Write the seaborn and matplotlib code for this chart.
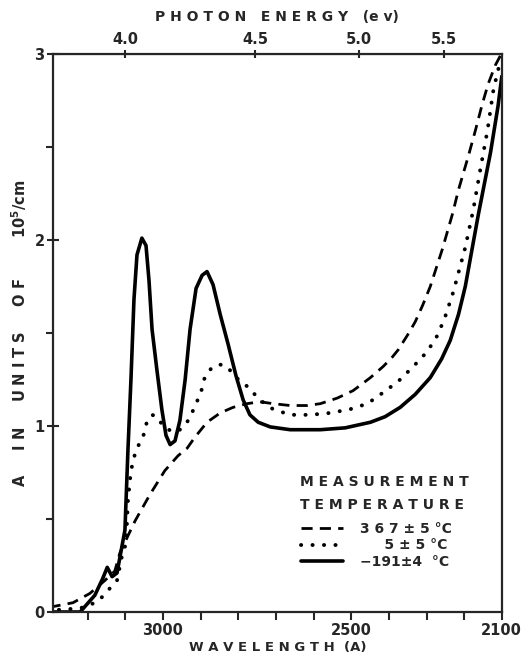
import matplotlib
matplotlib.use("Agg")
import matplotlib.pyplot as plt
import numpy as np
import seaborn as sns

# wavelength (A) and absorption (10^5/cm)
wl_hot = [3290, 3239, 3194, 3154, 3128, 3114, 3074, 3035, 2995, 2960, 2936, 2915,
          2883, 2848, 2814, 2777, 2742, 2707, 2662, 2617, 2582, 2537, 2495, 2449,
          2415, 2391, 2375, 2350, 2330, 2310, 2290, 2258, 2231, 2215, 2189, 2170,
          2152, 2136, 2117, 2104]
a_hot = [0.03, 0.05, 0.10, 0.17, 0.22, 0.32, 0.49, 0.63, 0.76, 0.84, 0.88, 0.94,
         1.02, 1.07, 1.10, 1.12, 1.13, 1.12, 1.11, 1.11, 1.12, 1.15, 1.19, 1.26,
         1.32, 1.37, 1.41, 1.49, 1.56, 1.65, 1.75, 1.95, 2.14, 2.27, 2.45, 2.59,
         2.73, 2.84, 2.94, 2.99]

wl_room = [3290, 3220, 3180, 3162, 3122, 3109, 3098, 3093, 3085, 3072, 3053, 3043,
           3029, 3016, 3003, 2987, 2960, 2936, 2923, 2910, 2899, 2891, 2880, 2867,
           2848, 2830, 2814, 2795, 2774, 2761, 2742, 2723, 2707, 2662, 2609, 2556,
           2503, 2457, 2415, 2375, 2335, 2298, 2270, 2250, 2229, 2197, 2176, 2157,
           2138, 2122, 2109]
a_room = [0.01, 0.02, 0.05, 0.08, 0.17, 0.30, 0.37, 0.60, 0.76, 0.87, 0.94, 1.02,
          1.06, 1.05, 1.01, 0.98, 0.97, 1.02, 1.07, 1.13, 1.18, 1.25, 1.29, 1.32,
          1.33, 1.32, 1.28, 1.24, 1.21, 1.18, 1.14, 1.11, 1.09, 1.06, 1.06, 1.07,
          1.09, 1.12, 1.18, 1.24, 1.32, 1.40, 1.49, 1.59, 1.72, 1.96, 2.16, 2.38,
          2.59, 2.81, 2.92]

wl_cold = [3290, 3220, 3181, 3160, 3148, 3135, 3122, 3101, 3093, 3085, 3077, 3069,
           3056, 3045, 3037, 3029, 3016, 3003, 2992, 2981, 2968, 2955, 2941, 2928,
           2912, 2896, 2883, 2867, 2848, 2827, 2806, 2787, 2769, 2747, 2715, 2662,
           2582, 2516, 2449, 2410, 2370, 2330, 2290, 2260, 2237, 2215, 2197, 2180,
           2162, 2130, 2110, 2100]
a_cold = [0.0, 0.0, 0.09, 0.18, 0.24, 0.19, 0.21, 0.44, 0.87, 1.25, 1.68, 1.92,
          2.01, 1.97, 1.78, 1.52, 1.30, 1.09, 0.95, 0.90, 0.92, 1.03, 1.25, 1.52,
          1.74, 1.81, 1.83, 1.76, 1.60, 1.44, 1.27, 1.14, 1.06, 1.02, 0.995, 0.98,
          0.98, 0.99, 1.02, 1.05, 1.10, 1.17, 1.26, 1.36, 1.46, 1.60, 1.75, 1.94,
          2.14, 2.47, 2.72, 2.88]

labels = ["3 6 7 \u00b1 5 \u00b0C", "     5 \u00b1 5 \u00b0C", "\u2212191\u00b14  \u00b0C"]

sns.set_style("ticks")
plt.rcParams["font.family"] = ["DejaVu Sans"]
plt.rcParams["font.weight"] = "bold"

fig = plt.figure(figsize=(5.26, 6.58), dpi=100)
ax = fig.add_axes([0.1008, 0.0699, 0.8532, 0.8481])

sns.lineplot(x=wl_hot, y=a_hot, ax=ax, color="black", lw=2.0,
             linestyle=(0, (4, 2.6)), label=labels[0])
sns.lineplot(x=wl_room, y=a_room, ax=ax, color="black", lw=2.8,
             linestyle=(0, (0.05, 2.9)), dash_capstyle="round", label=labels[1])
sns.lineplot(x=wl_cold, y=a_cold, ax=ax, color="black", lw=2.6, label=labels[2])

ax.set_xlim(3292, 2100)
ax.set_ylim(0, 3)

xt = list(range(3200, 2099, -100))
ax.set_xticks(xt)
ax.set_xticklabels([str(t) if t in (3000, 2500, 2100) else "" for t in xt])
ax.set_yticks([0, 1, 2, 3])
ax.set_yticks([0.5, 1.5, 2.5], minor=True)
ax.tick_params(axis="x", direction="out", length=6, width=1.5, labelsize=10.5, pad=2)
ax.tick_params(axis="y", which="major", direction="inout", length=8, width=1.5, labelsize=10.5, pad=2)
ax.tick_params(axis="y", which="minor", direction="out", length=5, width=1.5)
for s in ax.spines.values():
    s.set_linewidth(1.6)
    s.set_visible(True)

ax.set_xlabel("W A V E L E N G T H  (A)", fontsize=9.5, fontweight="bold", labelpad=2)
ax.set_ylabel("A     I N     U N I T S     O F        $\\mathbf{10^5}$/cm", fontsize=10.5,
              fontweight="bold", labelpad=4)

secax = ax.secondary_xaxis("top", functions=(lambda x: 12398.0 / np.asarray(x, dtype=float),
                                             lambda e: 12398.0 / np.asarray(e, dtype=float)))
secax.set_xticks([4.0, 4.5, 5.0, 5.5])
secax.set_xticklabels(["4.0", "4.5", "5.0", "5.5"])
secax.tick_params(direction="inout", length=6, width=1.5, labelsize=10.5, pad=2)
secax.set_xlabel("P H O T O N   E N E R G Y   (e v)", fontsize=10, fontweight="bold", labelpad=8)

ax.text(0.55, 0.233, "M E A S U R E M E N T", transform=ax.transAxes,
        fontsize=10, fontweight="bold", va="center", ha="left")
ax.text(0.55, 0.192, "T E M P E R A T U R E", transform=ax.transAxes,
        fontsize=10, fontweight="bold", va="center", ha="left")

leg = ax.legend(loc="upper left", bbox_to_anchor=(0.553, 0.162), frameon=False,
                fontsize=10, handlelength=3.0, handletextpad=1.2, labelspacing=0.2,
                borderpad=0, borderaxespad=0)

fig.savefig("out.png", dpi=100)
